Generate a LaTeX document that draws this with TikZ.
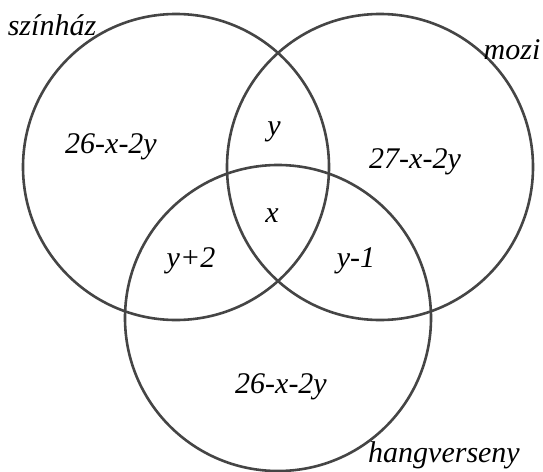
\documentclass[tikz,border=0pt]{standalone}
\usepackage{fontspec}
\setmainfont{Liberation Serif}
\usepackage{tikz}
\definecolor{vline}{HTML}{454545}
\tikzset{
  vset/.style={draw=vline, line width=2.6pt},
  vtxt/.style={font=\fontsize{30}{35}\selectfont\itshape, anchor=base, inner sep=0pt},
}
\begin{document}
\begin{tikzpicture}[x=1pt, y=-1pt]

  % keret
  \useasboundingbox (0,0) rectangle (543,471);

  % a halmazok középpontjai
  \coordinate (L) at (176,167);
  \coordinate (R) at (380,167);
  \coordinate (B) at (278,318);

  % körök
  \draw[vset] (L) circle (153);
  \draw[vset] (R) circle (153);
  \draw[vset] (B) circle (153);

  % halmazok nevei
  \node[vtxt] (szinhaz) at (52,35) {színház};
  \node[vtxt] (mozi) at (512,59) {mozi};
  \node[vtxt] (hangv) at (444,462) {hangverseny};

  % tartományok
  \node[vtxt] (rL) at (111,153) {26-x-2y};
  \node[vtxt] (rLR) at (274,135) {y};
  \node[vtxt] (rR) at (415,168) {27-x-2y};
  \node[vtxt] (rLRB) at (272,222) {x};
  \node[vtxt] (rLB) at (191,267) {y+2};
  \node[vtxt] (rRB) at (356,267) {y-1};
  \node[vtxt] (rB) at (281,393) {26-x-2y};

\end{tikzpicture}
\end{document}
